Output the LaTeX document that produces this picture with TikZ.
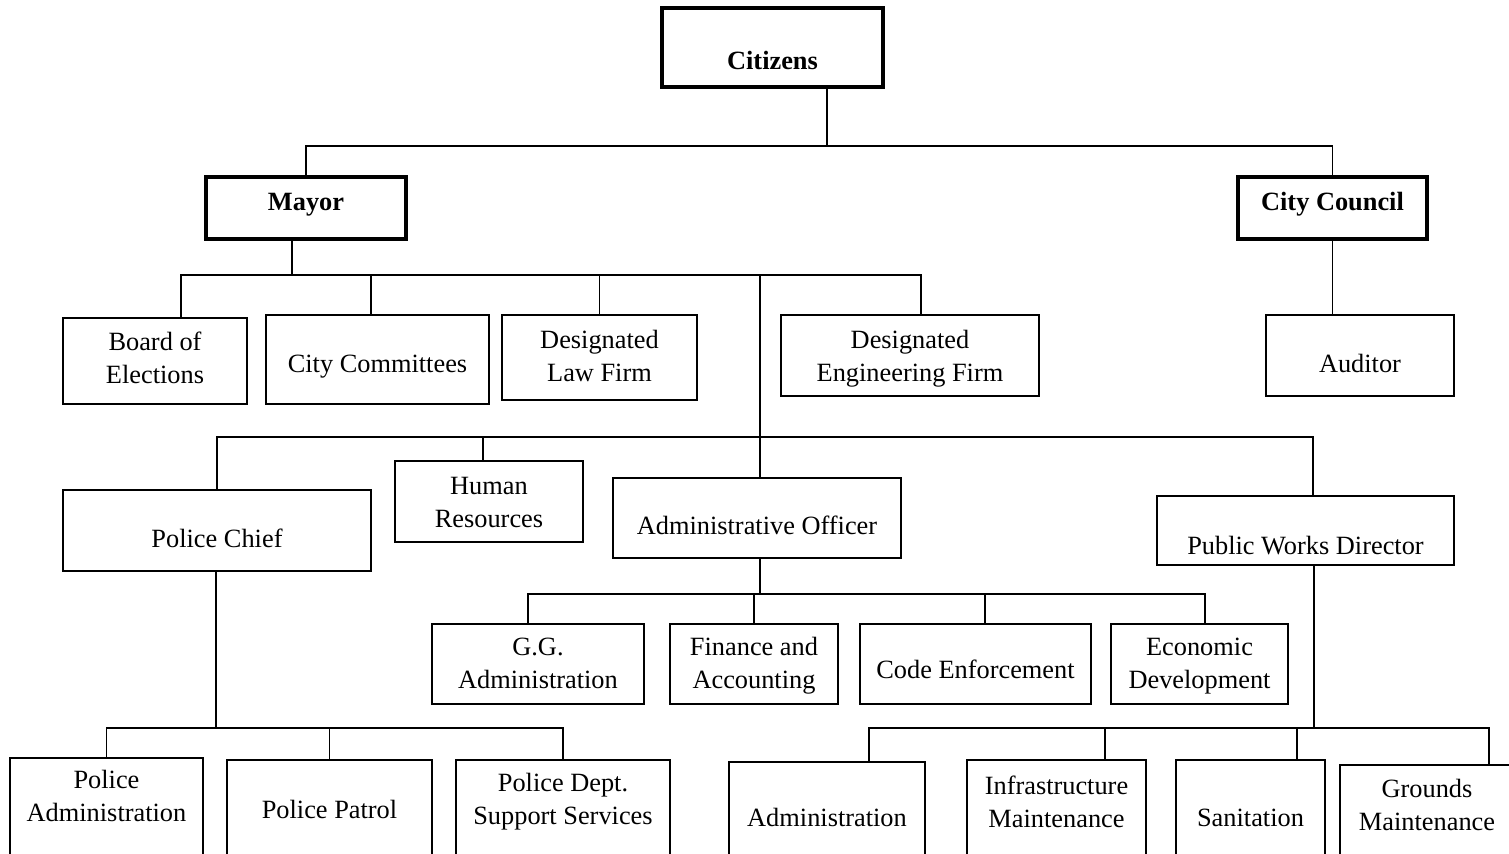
\documentclass[tikz,border=0pt]{standalone}
\usepackage{fontspec}
\setmainfont{Liberation Serif}
\usetikzlibrary{positioning, calc}

% one pixel of the drawing
\newdimen\pxlen \pxlen=0.02cm
% box text, raised (or lowered) by a number of pixels
\newcommand{\txt}[2][0]{\raisebox{\dimexpr#1\pxlen-3\pxlen\relax}[\height][\depth]{\begin{tabular}{@{}c@{}}#2\end{tabular}}}

\begin{document}
\begin{tikzpicture}[
		x=0.02cm,
		y=-0.02cm,
		font=\fontsize{15}{18.8}\selectfont,
		box/.style={draw, line width=1.1pt, inner sep=0pt},
		head/.style={box, line width=2.6pt, font=\fontsize{15}{18.8}\selectfont\bfseries},
		wire/.style={line width=1.1pt}
		]
		\useasboundingbox (0,0) rectangle (1509,853);
		\clip (0,0) rectangle (1509,853);
		
		% Top level
		\node[head, minimum width=4.42cm, minimum height=1.58cm] (cit) at (772.5,47.5) {\txt[-12]{Citizens}};
		\node[head, minimum width=4cm, minimum height=1.24cm] (mayor) at (306,208) {\txt[7]{Mayor}};
		\node[head, minimum width=3.78cm, minimum height=1.24cm] (council) at (1332.5,208) {\txt[7]{City Council}};
		
		% Under the mayor
		\node[box, minimum width=3.68cm, minimum height=1.72cm] (board) at (155,361) {\txt[4]{Board of\\Elections}};
		\node[box, minimum width=4.46cm, minimum height=1.78cm] (comm) at (377.5,359.5) {\txt[-3]{City Committees}};
		\node[box, minimum width=3.9cm, minimum height=1.7cm] (law) at (599.5,357.5) {\txt[2]{Designated\\Law Firm}};
		\node[box, minimum width=5.16cm, minimum height=1.62cm] (eng) at (910,355.5) {\txt{Designated\\Engineering Firm}};
		\node[box, minimum width=3.76cm, minimum height=1.62cm] (aud) at (1360,355.5) {\txt[-7]{Auditor}};
		
		% Department heads
		\node[box, minimum width=6.16cm, minimum height=1.62cm] (pchief) at (217,530.5) {\txt[-7]{Police Chief}};
		\node[box, minimum width=3.76cm, minimum height=1.62cm] (hr) at (489,501.5) {\txt{Human\\Resources}};
		\node[box, minimum width=5.76cm, minimum height=1.6cm] (ao) at (757,518) {\txt[-7]{Administrative Officer}};
		\node[box, minimum width=5.94cm, minimum height=1.38cm] (pw) at (1305.5,530.5) {\txt[-14]{Public Works Director}};
		
		% Under the administrative officer
		\node[box, minimum width=4.24cm, minimum height=1.6cm] (gg) at (538,664) {\txt[2]{G.G.\\Administration}};
		\node[box, minimum width=3.36cm, minimum height=1.6cm] (fin) at (754,664) {\txt[2]{Finance and\\Accounting}};
		\node[box, minimum width=4.62cm, minimum height=1.6cm] (code) at (975.5,664) {\txt[-5]{Code Enforcement}};
		\node[box, minimum width=3.54cm, minimum height=1.6cm] (econ) at (1199.5,664) {\txt[2]{Economic\\Development}};
		
		% Bottom row (runs off the page)
		\node[box, minimum width=3.86cm, minimum height=3.2cm] (padm) at (106.5,838) {\txt[43]{Police\\Administration}};
		\node[box, minimum width=4.1cm, minimum height=3.2cm] (patrol) at (329.5,840) {\txt[31]{Police Patrol}};
		\node[box, minimum width=4.28cm, minimum height=3.2cm] (dept) at (563,840) {\txt[42]{Police Dept.\\Support Services}};
		\node[box, minimum width=3.92cm, minimum height=3.2cm] (adm) at (827,842) {\txt[25]{Administration}};
		\node[box, minimum width=3.58cm, minimum height=3.2cm] (inf) at (1056.5,840) {\txt[39]{Infrastructure\\Maintenance}};
		\node[box, minimum width=2.98cm, minimum height=3.2cm] (san) at (1250.5,840) {\txt[23]{Sanitation}};
		\node[box, minimum width=3.48cm, minimum height=3.2cm] (gr) at (1427,845) {\txt[41]{Grounds\\Maintenance}};
		
		% Bus lines
		\coordinate (cbus) at (827,146);
		\coordinate (mbus) at (292,275);
		\coordinate (abus) at (760,437);
		\coordinate (obus) at (760,594);
		\coordinate (pbus) at (216,728);
		\coordinate (wbus) at (1314,728);
		
		% Drop points off the box centres
		\coordinate (board top) at ($(board.north)+(26,0)$);
		\coordinate (comm top) at ($(comm.north)+(-6.5,0)$);
		\coordinate (eng top) at ($(eng.north)+(11,0)$);
		\coordinate (hr top) at ($(hr.north)+(-6,0)$);
		\coordinate (pw top) at ($(pw.north)+(7.5,0)$);
		\coordinate (pw bottom) at ($(pw.south)+(8.5,0)$);
		\coordinate (gg top) at ($(gg.north)+(-10,0)$);
		\coordinate (code top) at ($(code.north)+(9.5,0)$);
		\coordinate (econ top) at ($(econ.north)+(5.5,0)$);
		\coordinate (adm top) at ($(adm.north)+(42,0)$);
		\coordinate (inf top) at ($(inf.north)+(48.5,0)$);
		\coordinate (san top) at ($(san.north)+(46.5,0)$);
		\coordinate (gr top) at ($(gr.north)+(62,0)$);
		
		% Connectors
		\draw[wire] (cit.south -| cbus) -- (cbus);
		\draw[wire] (mayor.north) |- (cbus) -| (council.north);
		
		\draw[wire] (mayor.south -| mbus) -- (mbus);
		\draw[wire] (board top) |- (mbus) -| (eng top);
		\draw[wire] (comm top) -- (comm top |- mbus);
		\draw[wire] (law.north) -- (law.north |- mbus);
		\draw[wire] (ao.north -| abus) -- (abus |- mbus);
		\draw[wire] (council.south) -- (council.south |- aud.north);
		
		\draw[wire] (pchief.north) |- (abus) -| (pw top);
		\draw[wire] (hr top) -- (hr top |- abus);
		
		\draw[wire] (ao.south -| obus) -- (obus);
		\draw[wire] (gg top) |- (obus) -| (econ top);
		\draw[wire] (fin.north) -- (fin.north |- obus);
		\draw[wire] (code top) -- (code top |- obus);
		
		\draw[wire] (pchief.south -| pbus) -- (pbus);
		\draw[wire] (padm.north) |- (pbus) -| (dept.north);
		\draw[wire] (patrol.north) -- (patrol.north |- pbus);
		
		\draw[wire] (pw bottom) -- (wbus);
		\draw[wire] (adm top) |- (wbus) -| (gr top);
		\draw[wire] (inf top) -- (inf top |- wbus);
		\draw[wire] (san top) -- (san top |- wbus);
	\end{tikzpicture}
\end{document}
